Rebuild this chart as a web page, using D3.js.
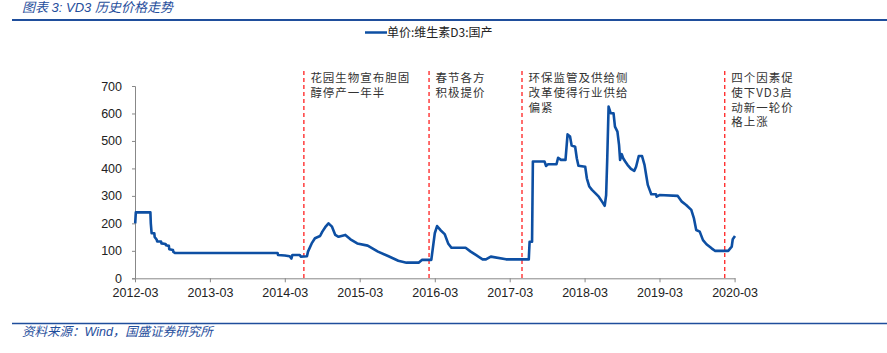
<!DOCTYPE html>
<html><head><meta charset="utf-8">
<script src="https://cdn.jsdelivr.net/npm/d3@7"></script>
<style>body{margin:0;background:#fff;}svg{display:block;}</style>
</head><body><svg id="c" width="887" height="353"></svg>
<script>
const dates = ["2012-03-02","2012-03-05","2012-05-15","2012-05-17","2012-05-21","2012-06-03","2012-06-05","2012-06-15","2012-06-17","2012-07-06","2012-07-08","2012-07-28","2012-07-30","2012-08-13","2012-08-15","2012-09-02","2012-09-04","2012-09-13",
"2014-01-25","2014-01-27","2014-03-01","2014-03-25","2014-04-02","2014-04-07","2014-05-13","2014-05-18","2014-06-17","2014-06-22","2014-07-10","2014-07-26","2014-08-20","2014-08-31","2014-09-14","2014-09-30","2014-10-17","2014-11-02","2014-11-18","2014-12-21","2015-01-15","2015-02-17","2015-04-09","2015-05-29","2015-07-17","2015-09-05","2015-10-15","2015-12-13","2015-12-29","2016-02-13","2016-03-01","2016-03-12","2016-03-28","2016-04-18","2016-05-05","2016-05-21","2016-07-29","2016-08-23","2016-09-17","2016-10-20","2016-11-05","2016-11-29","2017-02-11","2017-06-02","2017-06-06","2017-06-18","2017-06-22","2017-08-18","2017-08-25","2017-09-04","2017-10-15","2017-10-23","2017-11-06","2017-11-28","2017-12-08","2017-12-20","2017-12-28","2018-01-14","2018-01-22","2018-01-30","2018-03-04","2018-03-12","2018-03-24","2018-04-06","2018-04-22","2018-05-09","2018-05-25","2018-06-07","2018-06-14","2018-06-19","2018-06-26","2018-07-06","2018-07-20","2018-07-27","2018-08-08","2018-08-16","2018-08-21","2018-08-29","2018-09-05","2018-09-15","2018-09-26","2018-10-13","2018-10-29","2018-11-07","2018-11-20","2018-12-06","2018-12-18","2018-12-26","2019-01-03","2019-01-12","2019-01-20","2019-02-12","2019-02-15","2019-03-01","2019-05-29","2019-06-18","2019-07-09","2019-08-03","2019-08-16","2019-08-27","2019-09-13","2019-09-29","2019-10-16","2019-11-10","2019-11-26","2020-01-30","2020-02-16","2020-02-21","2020-03-03"];
const prices = [200,240,240,200,164,164,150,140,134,134,127,125,120,118,106,103,96,92,
92,85,83,80,72,85,85,79,80,97,127,146,154,170,186,200,188,158,151,158,142,127,119,97,81,64,57,57,67,67,164,190,176,161,127,111,111,97,85,69,69,79,69,69,133,133,425,425,409,415,415,439,431,431,524,516,483,479,437,410,406,364,334,322,310,297,279,264,303,425,625,601,601,552,534,485,431,452,437,425,413,398,391,406,445,445,413,376,340,322,306,306,297,303,300,279,267,249,218,176,170,139,124,109,100,100,115,142,154];
const yTicks = [0,100,200,300,400,500,600,700];
const xTickLabels = ["2012-03","2013-03","2014-03","2015-03","2016-03","2017-03","2018-03","2019-03","2020-03"];
const eventDates = ["2014-06-02","2016-02-02","2017-04-30","2020-01-13"];
const eventTexts = [["花园生物宣布胆固","醇停产一年半"],["春节各方","积极提价"],["环保监管及供给侧","改革使得行业供给","偏紧"],["四个因素促","使下VD3启","动新一轮价","格上涨"]];
const seriesName = "单价:维生素D3:国产";
const titleText = "图表 3:  VD3 历史价格走势";
const sourceText = "资料来源：Wind，国盛证券研究所";

const parse = d3.timeParse("%Y-%m-%d");
const parseM = d3.timeParse("%Y-%m");
const data = dates.map((d,i)=>({date:parse(d), v:prices[i]}));
const svg = d3.select("#c");
const blue = "#0D4FA3";
const x = d3.scaleTime().domain([parseM("2012-03"), parse("2020-03-03")]).range([135, 735]);
const y = d3.scaleLinear().domain([0,700]).range([278.3, 86]);

// title
svg.append("text").attr("x",22).attr("y",12).attr("font-family","Liberation Sans, Noto Sans CJK SC").attr("font-style","italic")
  .attr("font-size",13).attr("fill","#1F4E9C").text(titleText);
svg.append("line").attr("x1",12).attr("x2",887).attr("y1",20).attr("y2",20).attr("stroke","#1F4E9C").attr("stroke-width",2);
svg.append("line").attr("x1",12).attr("x2",887).attr("y1",323.5).attr("y2",323.5).attr("stroke","#1F4E9C").attr("stroke-width",1.5);
svg.append("text").attr("x",22).attr("y",336).attr("font-family","Liberation Sans, Noto Sans CJK SC").attr("font-style","italic")
  .attr("font-size",12.5).attr("fill","#1F4E9C").text(sourceText);

// legend
svg.append("line").attr("x1",365).attr("x2",387).attr("y1",32.5).attr("y2",32.5).attr("stroke",blue).attr("stroke-width",2.5);
svg.append("text").attr("x",387).attr("y",37).attr("font-family","Noto Sans CJK SC, Liberation Sans").attr("font-size",12)
  .attr("fill","#222").text(seriesName);

// axes
const yAxis = d3.axisLeft(y).tickValues(yTicks).tickSize(3).tickPadding(10);
const gy = svg.append("g").attr("transform","translate(135,0)").call(yAxis);
gy.selectAll("text").attr("font-family","Liberation Sans, Arial").attr("font-size",12.5).attr("fill","#222");
gy.selectAll("line,path").attr("stroke","#888");
const xAxis = d3.axisBottom(x).tickValues(xTickLabels.map(parseM)).tickFormat(d3.timeFormat("%Y-%m")).tickSize(4).tickSizeOuter(0).tickPadding(6);
const gx = svg.append("g").attr("transform","translate(0,278.3)").call(xAxis);
gx.selectAll("text").attr("font-family","Liberation Sans, Arial").attr("font-size",12.5).attr("fill","#222");
gx.selectAll("line,path").attr("stroke","#888");

// event lines
eventDates.forEach((d,i)=>{
  const xx = x(parse(d));
  svg.append("line").attr("x1",xx).attr("x2",xx).attr("y1",71).attr("y2",278).attr("stroke","#FF2020")
    .attr("stroke-width",1.3).attr("stroke-dasharray","4,3");
  const t = svg.append("text").attr("font-family","Noto Sans CJK SC").attr("font-size",11.5).attr("fill","#333")
    .attr("letter-spacing",1);
  eventTexts[i].forEach((s,j)=>{
    t.append("tspan").attr("x",xx+6.5).attr("y",82+j*14.8).text(s);
  });
});

// series
const line = d3.line().x(d=>x(d.date)).y(d=>y(d.v)).curve(d3.curveLinear);
svg.append("path").datum(data).attr("d",line).attr("fill","none").attr("stroke",blue).attr("stroke-width",2.6)
  .attr("stroke-linejoin","round");
</script></body></html>
